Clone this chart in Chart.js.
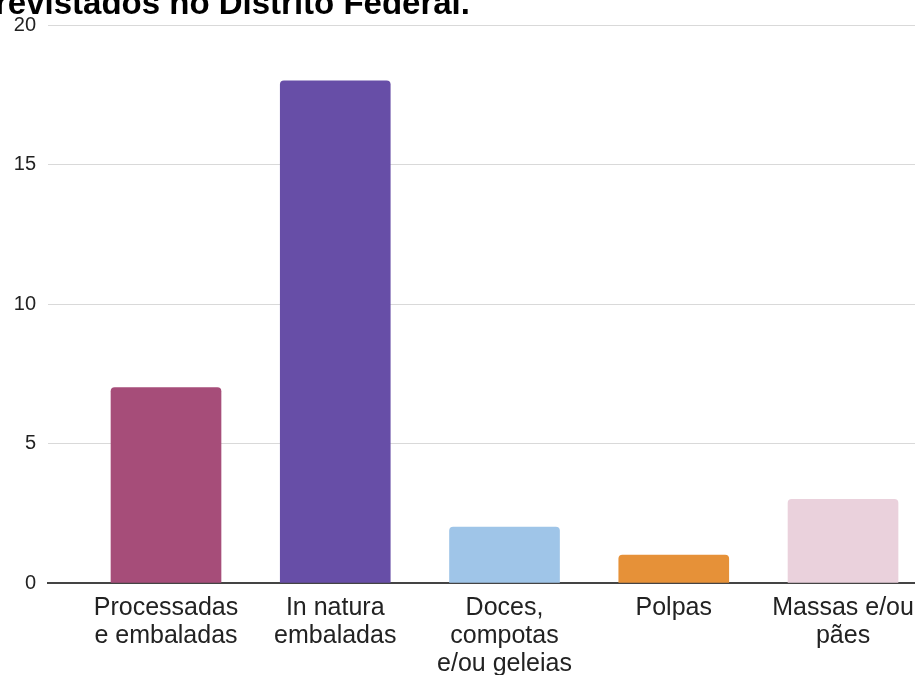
<!DOCTYPE html>
<html>
<head>
<meta charset="utf-8">
<script src="https://cdn.jsdelivr.net/npm/chart.js@4"></script>
<style>
  html, body { margin: 0; padding: 0; background: #fff; }
  #wrap { position: relative; width: 915px; height: 675px; overflow: hidden; }
  #c { position: absolute; left: -5px; top: -20px; }
</style>
</head>
<body>
<div id="wrap"><canvas id="c" width="923" height="695"></canvas></div>
<script>
// ---- data ----
const titleText = "revistados no Distrito Federal.";
const categories = [
  ["Processadas", "e embaladas"],
  ["In natura", "embaladas"],
  ["Doces,", "compotas", "e/ou geleias"],
  ["Polpas"],
  ["Massas e/ou", "pães"]
];
const values = [7, 18, 2, 1, 3];
const yTickValues = [0, 5, 10, 15, 20];
const barColors = ["#a64d79", "#674ea7", "#9fc5e8", "#e69138", "#ead1dc"];

const FONT = "'Liberation Sans', Arial, sans-serif";

new Chart(document.getElementById('c'), {
  type: 'bar',
  data: {
    datasets: [{
      data: values.map((v, i) => ({ x: i, y: v })),
      backgroundColor: barColors,
      barThickness: 110,
      borderRadius: 4,
      borderSkipped: 'start'
    }]
  },
  options: {
    responsive: false,
    devicePixelRatio: 1,
    animation: false,
    layout: { padding: 0 },
    plugins: {
      legend: { display: false },
      tooltip: { enabled: false },
      title: {
        display: true,
        text: titleText,
        align: 'start',
        color: '#000',
        font: { family: FONT, size: 33, weight: 'bold', lineHeight: 1.2 },
        padding: { top: 5, bottom: 0.4 }
      }
    },
    scales: {
      x: {
        type: 'linear',
        offset: false,
        min: -0.6972,
        max: 4.443,
        afterBuildTicks: (scale) => { scale.ticks = categories.map((_, i) => ({ value: i })); },
        afterFit: (scale) => { scale.height = 92; scale.paddingLeft = 0; scale.paddingRight = 0; },
        grid: { display: false, drawTicks: false, offset: false },
        border: { display: true, color: '#444', width: 2 },
        ticks: {
          autoSkip: false,
          maxRotation: 0,
          minRotation: 0,
          padding: 11,
          color: '#222',
          font: { family: FONT, size: 25, lineHeight: '28px' },
          callback: (v) => categories[v]
        }
      },
      y: {
        min: 0,
        max: 20,
        afterBuildTicks: (scale) => { scale.ticks = yTickValues.map(v => ({ value: v })); },
        afterFit: (scale) => { scale.width = 53; scale.paddingTop = 0; scale.paddingBottom = 0; },
        grid: { color: '#d9d9d9', lineWidth: 1, drawTicks: false },
        border: { display: false },
        ticks: {
          padding: 12,
          color: '#222',
          font: { family: FONT, size: 20 }
        }
      }
    }
  }
});
</script>
</body>
</html>
